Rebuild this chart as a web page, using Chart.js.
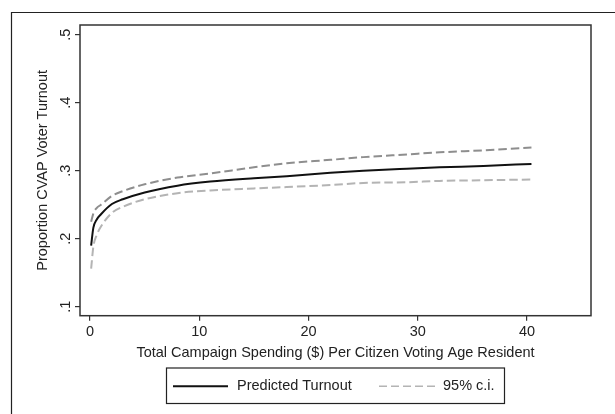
<!DOCTYPE html>
<html>
<head>
<meta charset="utf-8">
<script src="https://cdn.jsdelivr.net/npm/chart.js@4/dist/chart.umd.min.js"></script>
<style>
  html, body { margin: 0; padding: 0; background: #fff; }
  #wrap { width: 615px; height: 414px; position: relative; }
</style>
</head>
<body>
<div id="wrap"><canvas id="c" width="615" height="414"></canvas></div>
<script>
// Spending per citizen voting age resident ($)
const spending  = [0.1, 0.3, 0.6, 1, 2, 3, 5, 8, 11, 15, 18, 22, 25, 29, 32, 36, 40.4];
// Predicted turnout
const predicted = [0.190, 0.216, 0.228, 0.236, 0.251, 0.258, 0.268, 0.278, 0.284, 0.289, 0.292, 0.297, 0.300, 0.303, 0.305, 0.307, 0.310];
// Upper 95% bound
const ciUpper   = [0.225, 0.237, 0.245, 0.250, 0.263, 0.270, 0.280, 0.290, 0.296, 0.305, 0.311, 0.316, 0.320, 0.324, 0.327, 0.330, 0.334];
// Lower 95% bound
const ciLower   = [0.156, 0.188, 0.205, 0.218, 0.238, 0.247, 0.258, 0.267, 0.271, 0.274, 0.276, 0.279, 0.282, 0.283, 0.285, 0.286, 0.287];

const xTicks = [0, 10, 20, 30, 40];
const xTickLabels = ['0', '10', '20', '30', '40'];
const yTicks = [0.1, 0.2, 0.3, 0.4, 0.5];
const yTickLabels = ['.1', '.2', '.3', '.4', '.5'];
const legendLabels = ['Predicted Turnout', '95% c.i.'];
const xTitle = 'Total Campaign Spending ($) Per Citizen Voting Age Resident';
const yTitle = 'Proportion CVAP Voter Turnout';

const FONT = "'Liberation Sans', Arial, Helvetica, sans-serif";
const FS = 14.5;
const TEXT = '#222';
const pts = (ys) => spending.map((x, i) => ({ x: x, y: ys[i] }));

const decor = {
  id: 'decor',
  beforeDraw(chart) {
    const ctx = chart.ctx;
    ctx.save();
    ctx.fillStyle = '#fff';
    ctx.fillRect(0, 0, chart.width, chart.height);
    ctx.strokeStyle = '#222';
    ctx.lineWidth = 1.2;
    ctx.beginPath();
    ctx.moveTo(11.5, 414);
    ctx.lineTo(11.5, 12.5);
    ctx.lineTo(615, 12.5);
    ctx.stroke();
    ctx.restore();
  },
  afterDraw(chart) {
    const ctx = chart.ctx;
    const a = chart.chartArea;
    const xs = chart.scales.x, ys = chart.scales.y;
    ctx.save();
    // plot box
    ctx.strokeStyle = '#333';
    ctx.lineWidth = 1.5;
    ctx.strokeRect(a.left, a.top, a.right - a.left, a.bottom - a.top);
    ctx.fillStyle = TEXT;
    ctx.font = FS + 'px ' + FONT;
    // x tick labels
    ctx.textAlign = 'center';
    ctx.textBaseline = 'middle';
    xTicks.forEach((v, i) => ctx.fillText(xTickLabels[i], xs.getPixelForValue(v), 332));
    // x title
    ctx.fillText(xTitle, (a.left + a.right) / 2, 352.5);
    // y tick labels (rotated)
    yTicks.forEach((v, i) => {
      ctx.save();
      ctx.translate(65.5, ys.getPixelForValue(v));
      ctx.rotate(-Math.PI / 2);
      ctx.fillText(yTickLabels[i], 0, 0);
      ctx.restore();
    });
    // y title
    ctx.save();
    ctx.translate(43, (a.top + a.bottom) / 2);
    ctx.rotate(-Math.PI / 2);
    ctx.fillText(yTitle, 0, 0);
    ctx.restore();
    // legend box
    const lx = 166.5, ly = 368, lw = 338, lh = 35.5;
    ctx.lineWidth = 1.2;
    ctx.strokeStyle = '#222';
    ctx.strokeRect(lx, ly, lw, lh);
    const cy = ly + lh / 2 + 0.5;
    ctx.lineWidth = 2;
    ctx.strokeStyle = '#111';
    ctx.beginPath(); ctx.moveTo(173, cy); ctx.lineTo(228, cy); ctx.stroke();
    ctx.strokeStyle = '#b4b4b4';
    ctx.lineWidth = 1.5;
    ctx.setLineDash([8, 4]);
    ctx.beginPath(); ctx.moveTo(379, cy); ctx.lineTo(435, cy); ctx.stroke();
    ctx.setLineDash([]);
    ctx.textAlign = 'left';
    ctx.fillText(legendLabels[0], 237, cy);
    ctx.fillText(legendLabels[1], 443, cy);
    ctx.restore();
  }
};

new Chart(document.getElementById('c'), {
  type: 'line',
  data: {
    datasets: [
      { label: legendLabels[0], data: pts(predicted), borderColor: '#111', borderWidth: 2, pointRadius: 0, cubicInterpolationMode: 'monotone', fill: false },
      { label: legendLabels[1], data: pts(ciUpper), borderColor: '#8e8e8e', borderWidth: 2, borderDash: [8.5, 4], pointRadius: 0, cubicInterpolationMode: 'monotone', fill: false },
      { label: legendLabels[1] + ' (lower)', data: pts(ciLower), borderColor: '#b4b4b4', borderWidth: 2, borderDash: [8.5, 4], pointRadius: 0, cubicInterpolationMode: 'monotone', fill: false }
    ]
  },
  options: {
    responsive: false,
    animation: false,
    devicePixelRatio: 1,
    layout: { padding: { top: 25, right: 24, left: 0, bottom: 0 } },
    plugins: { legend: { display: false }, tooltip: { enabled: false } },
    scales: {
      x: {
        type: 'linear',
        min: -0.92, max: 45.85,
        afterBuildTicks: (s) => { s.ticks = xTicks.map(v => ({ value: v })); },
        afterFit: (s) => { s.height = 98.3; },
        grid: { display: true, drawOnChartArea: false, drawTicks: true, tickLength: 5, color: '#333', lineWidth: 1.2 },
        border: { display: false },
        ticks: { display: false },
        title: { display: false }
      },
      y: {
        type: 'linear',
        min: 0.0868, max: 0.5143,
        afterBuildTicks: (s) => { s.ticks = yTicks.map(v => ({ value: v })); },
        afterFit: (s) => { s.width = 80; },
        grid: { display: true, drawOnChartArea: false, drawTicks: true, tickLength: 5, color: '#333', lineWidth: 1.2 },
        border: { display: false },
        ticks: { display: false },
        title: { display: false }
      }
    }
  },
  plugins: [decor]
});
</script>
</body>
</html>
